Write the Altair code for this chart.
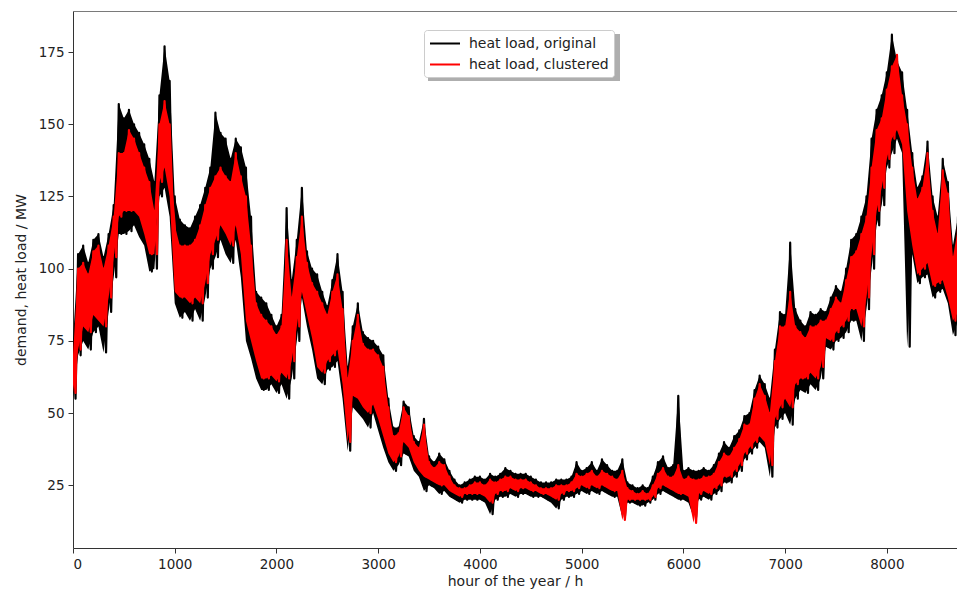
import altair as alt
import pandas as pd

# sample grid (hours), one envelope reading every 50 h
hours = list(range(0, 8751, 50))

orig_hi = [
    75, 105, 108, 102, 110, 112, 104, 112, 122, 157,
    152, 155, 150, 147, 143, 138, 130, 160, 177, 165,
    125, 117, 115, 114, 118, 122, 128, 135, 154, 147,
    145, 138, 145, 142, 135, 118, 92, 90, 88, 84,
    80, 84, 121, 96, 110, 128, 106, 100, 98, 92,
    87, 96, 105, 92, 66, 80, 88, 78, 76, 75,
    73, 70, 55, 45, 45, 54, 52, 42, 40, 48,
    35, 33, 36, 34, 30, 27, 25, 26, 27, 28,
    28, 27, 29, 28, 29, 31, 30, 29, 29, 29,
    28, 27, 26, 26, 26, 27, 27, 27, 28, 33,
    30, 31, 33, 30, 34, 32, 30, 30, 34, 26,
    25, 24, 25, 24, 28, 33, 35, 31, 32, 56,
    30, 31, 30, 30, 31, 30, 32, 36, 40, 38,
    42, 44, 49, 50, 58, 63, 60, 55, 72, 85,
    84, 109, 86, 82, 80, 85, 84, 86, 85, 90,
    94, 92, 100, 110, 112, 118, 125, 145, 155, 160,
    168, 181, 172, 168, 155, 140, 128, 132, 144, 125,
    118, 138, 130, 108, 118, 112,
]
orig_lo = [
    55, 70, 75, 72, 78, 80, 71, 85, 97, 112,
    112, 113, 115, 111, 108, 99, 100, 125, 128, 118,
    88, 83, 85, 82, 86, 82, 90, 100, 104, 110,
    105, 102, 110, 97, 75, 69, 62, 58, 58, 60,
    57, 60, 55, 62, 75, 90, 80, 72, 62, 60,
    65, 66, 68, 55, 37, 52, 50, 48, 45, 50,
    44, 38, 33, 30, 32, 36, 35, 30, 28, 23,
    25, 24, 22, 23, 21, 20, 19, 20, 20, 20,
    20, 19, 15, 20, 21, 21, 22, 21, 22, 22,
    21, 21, 21, 20, 19, 17, 20, 21, 21, 22,
    23, 22, 23, 22, 23, 22, 21, 21, 14, 19,
    19, 18, 18, 19, 20, 22, 23, 22, 21, 20,
    20, 19, 14, 20, 21, 20, 22, 23, 26, 26,
    28, 30, 34, 36, 38, 40, 38, 28, 45, 48,
    50, 46, 55, 58, 57, 60, 58, 62, 73, 72,
    75, 76, 78, 82, 82, 75, 86, 100, 115, 122,
    135, 140, 145, 140, 73, 105, 95, 97, 98, 90,
    92, 93, 88, 77, 82, 80,
]
clus_hi = [
    70, 100, 102, 98, 106, 108, 100, 108, 118, 140,
    140, 148, 145, 140, 135, 130, 120, 150, 158, 150,
    115, 108, 108, 108, 110, 115, 122, 128, 132, 135,
    132, 130, 140, 132, 125, 108, 88, 84, 82, 80,
    77, 80, 110, 90, 104, 118, 102, 95, 92, 88,
    84, 92, 98, 86, 62, 75, 84, 74, 72, 72,
    70, 66, 52, 42, 43, 52, 49, 40, 38, 46,
    33, 31, 33, 32, 28, 25, 24, 24, 25, 26,
    26, 25, 27, 26, 27, 28, 28, 27, 27, 27,
    26, 25, 24, 24, 24, 25, 25, 25, 26, 29,
    28, 29, 30, 28, 30, 29, 28, 27, 30, 24,
    23, 22, 23, 22, 25, 29, 31, 28, 28, 32,
    27, 28, 27, 27, 28, 28, 29, 33, 36, 35,
    38, 41, 46, 46, 55, 60, 56, 50, 68, 80,
    80, 92, 80, 78, 76, 80, 80, 82, 82, 86,
    90, 88, 96, 104, 106, 112, 118, 135, 148, 152,
    162, 170, 174, 160, 150, 135, 124, 128, 140, 120,
    112, 134, 126, 104, 114, 108,
]
clus_lo = [
    57, 72, 80, 78, 84, 82, 80, 90, 104, 118,
    120, 120, 120, 118, 112, 105, 105, 130, 135, 125,
    92, 90, 90, 88, 90, 88, 95, 105, 110, 115,
    112, 108, 115, 105, 82, 75, 68, 62, 62, 63,
    61, 64, 62, 68, 80, 92, 84, 76, 66, 64,
    68, 70, 72, 60, 40, 56, 55, 52, 50, 53,
    48, 42, 36, 33, 35, 40, 38, 33, 30, 28,
    27, 26, 25, 25, 23, 22, 21, 22, 22, 22,
    22, 21, 19, 22, 23, 23, 24, 23, 24, 24,
    23, 23, 22, 22, 21, 20, 22, 23, 23, 24,
    25, 24, 25, 24, 25, 24, 23, 23, 13, 20,
    20, 20, 20, 20, 21, 24, 25, 24, 23, 22,
    22, 21, 12, 22, 23, 22, 24, 25, 28, 28,
    30, 32, 36, 38, 40, 42, 40, 32, 48, 52,
    55, 52, 60, 62, 62, 64, 62, 66, 76, 75,
    78, 80, 82, 86, 86, 80, 90, 105, 120, 128,
    138, 145, 148, 143, 120, 108, 98, 100, 102, 94,
    95, 96, 90, 82, 85, 83,
]

series_names = ["heat load, original", "heat load, clustered"]
series_colors = ["black", "red"]
x_ticks = [0, 1000, 2000, 3000, 4000, 5000, 6000, 7000, 8000]
y_ticks = [25, 50, 75, 100, 125, 150, 175]


def zigzag(name, hi, lo):
    rows = []
    for h, a, b in zip(hours, hi, lo):
        rows.append({"hour": h, "value": a, "series": name})
        rows.append({"hour": h + 25, "value": b, "series": name})
    return pd.DataFrame(rows)


def band(name, hi, lo):
    return pd.DataFrame({"hour": hours, "hi": hi, "lo": lo, "series": name})


FONT = "DejaVu Sans"
X_DOMAIN = [0, 8690]
Y_DOMAIN = [3.3, 189.2]

x_scale = alt.Scale(domain=X_DOMAIN, nice=False, zero=False)
y_scale = alt.Scale(domain=Y_DOMAIN, nice=False, zero=False)

x_axis = alt.Axis(values=x_ticks, title="hour of the year / h", grid=False,
                  format="d", orient="bottom")
x_axis_top = alt.Axis(orient="top", labels=False, ticks=False, title=None,
                      grid=False, domainColor="#7a7a7a")
y_axis = alt.Axis(values=y_ticks, title="demand, heat load / MW", grid=False)

color_enc = alt.Color(
    "series:N",
    scale=alt.Scale(domain=series_names, range=series_colors),
    sort=series_names,
    legend=alt.Legend(
        orient="none", legendX=351, legendY=19, title=None,
        symbolType="M-1,0H3", symbolSize=225, symbolStrokeWidth=2,
        symbolFillColor="transparent",
        labelFontSize=14, labelFont=FONT, labelColor="#222222",
        fillColor="white", strokeColor="#cccccc", padding=5,
        cornerRadius=3, labelOffset=23, labelLimit=300, rowPadding=5,
    ),
)


# envelope (daily min..max) of each hourly series
def band_layer(name, hi, lo, col):
    return alt.Chart(band(name, hi, lo)).mark_area(
        clip=True, color=col, opacity=1
    ).encode(
        x=alt.X("hour:Q", scale=x_scale, axis=None),
        y=alt.Y("lo:Q", scale=y_scale, axis=y_axis),
        y2="hi:Q",
    )


def line_layer(name, hi, lo, axis):
    return alt.Chart(zigzag(name, hi, lo)).mark_line(
        strokeWidth=2.2, clip=True, strokeJoin="round"
    ).encode(
        x=alt.X("hour:Q", scale=x_scale, axis=axis),
        y=alt.Y("value:Q", scale=y_scale, axis=y_axis),
        color=color_enc,
    )


# matplotlib-style legend shadow (decoration only)
shadow = alt.Chart(pd.DataFrame({"k": [0]})).mark_rect(
    color="#9a9a9a", opacity=0.8
).encode(
    x=alt.value(355), x2=alt.value(547), y=alt.value(23), y2=alt.value(70)
)

chart = (
    alt.layer(
        band_layer(series_names[0], orig_hi, orig_lo, "black"),
        line_layer(series_names[0], orig_hi, orig_lo, x_axis),
        band_layer(series_names[1], clus_hi, clus_lo, "red"),
        line_layer(series_names[1], clus_hi, clus_lo, x_axis_top),
        shadow,
    )
    .resolve_axis(x="independent")
    .properties(
        width=884, height=537,
        autosize=alt.AutoSizeParams(type="none"),
        padding={"left": 73, "top": 11, "right": 0, "bottom": 42},
        background="white",
    )
    .configure_view(stroke=None)
    .configure_axis(
        labelFont=FONT, labelFontSize=13.5, labelColor="#222222",
        titleFont=FONT, titleFontSize=14, titleFontWeight="normal",
        titleColor="#222222", domainColor="#333333", tickColor="#333333",
        tickSize=5, labelPadding=4,
    )
    .configure_axisX(titlePadding=4)
    .configure_axisY(titlePadding=10)
)

chart.save("out.html", embed_options={"renderer": "svg", "actions": False})
